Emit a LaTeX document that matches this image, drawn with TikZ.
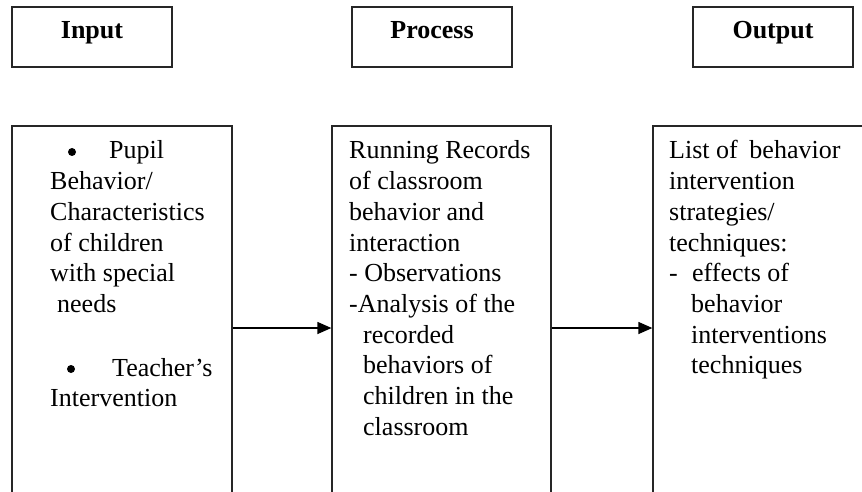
\documentclass[tikz,border=0pt]{standalone}
\usepackage{fontspec}
\setmainfont{Liberation Serif}
\usetikzlibrary{arrows.meta}
\begin{document}
\begin{tikzpicture}[x=1pt,y=-1pt,
  hdr/.style={draw=black!85,line width=1.6pt,minimum width=160pt,minimum height=60pt,inner sep=0pt},
  bigbox/.style={draw=black!85,line width=1.3pt,minimum height=404pt,inner sep=0pt},
  txt/.style={anchor=base west,inner sep=0pt,font=\fontsize{26}{30}\selectfont},
  htxt/.style={anchor=base,inner sep=0pt,font=\fontsize{26}{30}\selectfont\bfseries},
  dot/.style={circle,fill=black,inner sep=0pt,minimum size=8pt},
  arr/.style={line width=1.3pt,-{Triangle[length=14pt,width=12pt]}}]
\useasboundingbox (0,0) rectangle (862,492);
\clip (0,0) rectangle (862,492);
% header boxes
\node[hdr] (hin) at (92,37) {};
\node[hdr] (hpr) at (432,37) {};
\node[hdr] (hout) at (773,37) {};
\node[htxt] (thin) at (92,39) {Input};
\node[htxt] (thpr) at (432,39) {Process};
\node[htxt] (thout) at (773,39) {Output};
% big boxes
\node[bigbox,minimum width=220pt] (inbox) at (122,328) {};
\node[bigbox,minimum width=219pt] (prbox) at (441.5,328) {};
\node[bigbox,minimum width=240pt] (outbox) at (773,328) {};
% arrows
\draw[arr] (inbox.east) -- (prbox.west);
\draw[arr] (prbox.east) -- (outbox.west);
% input text
\node[dot] (ib1) at (72,152) {};
\node[txt] (i1) at (109,159) {Pupil};
\foreach \yy/\xx/\tt [count=\i from 2] in {189.7/50/{Behavior/}, 220.4/50/{Characteristics}, 251.1/50/{of children}, 281.8/50/{with special}, 312.5/57/{needs}, 406/50/{Intervention}}
  \node[txt] (i\i) at (\xx,\yy) {\tt};
\node[dot] (ib2) at (71,369) {};
\node[txt] (i8) at (112,376) {Teacher’s};
% process text
\foreach \yy/\xx/\tt [count=\i] in {159/349/{Running Records}, 189.7/349/{of classroom}, 220.4/349/{behavior and}, 251.1/349/{interaction}, 281.8/349/{- Observations}, 312.5/349/{-Analysis of the}, 343.2/363/{recorded}, 373.9/363/{behaviors of}, 404.6/363/{children in the}, 435.3/363/{classroom}}
  \node[txt] (p\i) at (\xx,\yy) {\tt};
% output text
\foreach \yy/\xx/\tt [count=\i] in {159/669/{List of\hspace{0.45em}behavior}, 189.7/669/{intervention}, 220.4/669/{strategies/}, 251.1/669/{techniques:}, 281.8/669/{-\hspace{0.55em}effects of}, 312.5/691/{behavior}, 343.2/691/{interventions}, 373.9/691/{techniques}}
  \node[txt] (o\i) at (\xx,\yy) {\tt};
\end{tikzpicture}
\end{document}
